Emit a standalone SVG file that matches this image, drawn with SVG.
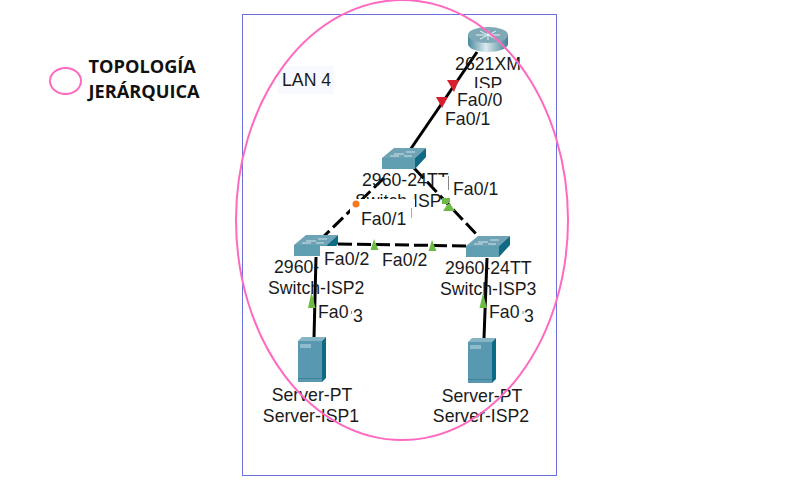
<svg xmlns="http://www.w3.org/2000/svg" width="803" height="490" viewBox="0 0 803 490">
<style>
text{font-family:"Liberation Sans",Arial,sans-serif;font-size:17.7px;fill:#1a1a1a}
.c{text-anchor:middle}
.t{font-family:"Open Sans",sans-serif;font-weight:700;font-size:18.2px;fill:#111}
.link{stroke:#000;stroke-width:3;fill:none}
.dash{stroke-dasharray:14 5}
.pink{fill:none;stroke:#ff69c0;stroke-width:2}
.mask{fill:#fff}
.srv{fill:#5898b0}
.srvs{fill:#0d6a85}
.srvt{fill:#8fbccb}
.g{fill:#6dbb45}
.r{fill:#d6202f}
</style>
<defs>
<linearGradient id="rg" x1="0" x2="1" y1="0" y2="0"><stop offset="0" stop-color="#4a8a9e"/><stop offset=".45" stop-color="#dcebee"/><stop offset="1" stop-color="#3f8094"/></linearGradient>
<g id="sw"><path d="M0 10 L12 0 H44 L33 10Z" fill="#6ea3b5"/><path d="M33 10 L44 0 V9 L33 21Z" fill="#0f6a84"/><rect x="0" y="10" width="33" height="11" fill="#5f9eb1"/><path d="M12 6h10M24 4h9M8 8h9M22 8h8" stroke="#cfe2e8" stroke-width="1"/></g>
<g id="sv"><path d="M0 4 L4 0 H28 L24 4Z" fill="#85b4c4"/><path d="M24 4 L28 0 V41 L24 45Z" class="srvs"/><rect y="4" width="24" height="41" class="srv"/><rect x="2" y="7" width="11" height="4" class="srvt"/><rect y="41" width="24" height="1" fill="#3f8299"/></g>
</defs>
<rect id="frame" x="242.500" y="14.500" width="314" height="461" fill="#fff" stroke="#6a70e0" stroke-width="1"/>
<rect x="278" y="66" width="56" height="28" fill="#f8f9fe"/>
<g id="router"><rect x="468" y="35" width="40" height="9" fill="url(#rg)"/><path d="M468 44a20 8 0 0 0 40 0z" fill="url(#rg)"/><ellipse cx="488" cy="35" rx="20" ry="8" fill="#7fa9b6"/><path d="M476 35h24M488 30v10M480 31l16 8M496 31l-16 8" stroke="#e8f2f4" stroke-width="1"/></g>
<g id="connectors">
<path class="link" d="M477 52 L410 150"/>
<path class="link dash" d="M384 178 L320 240"/>
<path class="link dash" d="M414 168 L478 236"/>
<path class="link dash" d="M338 244 L470 246"/>
<path class="link" d="M316 257 L314 338"/>
<path class="link" d="M487 258 L484 338"/>
<path d="M447 80h12l-5 12z" class="r"/><path d="M436 97h12l-6 11z" class="r"/>
<path d="M443 211h12l-6-9zM442 198h8v6h-8z" class="g"/>
<path d="M374 239l4.500 11h-8zM432 240l4.500 11h-8z" class="g"/>
<path d="M311.500 292l4 16h-7.500zM483 293l4 15h-7.500z" class="g"/>
</g>
<g id="router-labels"><text class="c" x="488" y="70">2621XM</text><text class="c" x="488" y="90">ISP</text></g>
<rect class="mask" x="460" y="88" width="50" height="5"/>
<g id="switch-isp"><use href="#sw" x="382" y="148"/><text x="362" y="186">2960-24TT</text><rect class="mask" x="441.500" y="177" width="10" height="14"/><text x="355" y="207">Switch-ISP</text><rect class="mask" x="350" y="199" width="65" height="16"/>
<circle cx="356" cy="204" r="3.500" fill="#f47b20"/><rect x="448" y="176" width="1" height="14" fill="#888"/><rect x="411" y="208" width="1" height="10" fill="#7ab8e8"/></g>
<g id="switch-isp2"><use href="#sw" x="294" y="235"/><rect class="mask" x="320" y="246" width="18" height="12"/><text x="274" y="273">2960-</text><text x="268" y="294">Switch-ISP2</text></g>
<g id="switch-isp3"><use href="#sw" x="466" y="236"/><text x="445" y="274">2960-24TT</text><text x="440" y="295">Switch-ISP3</text></g>
<g id="server-isp1"><use href="#sv" x="298" y="337"/><text class="c" x="312" y="401">Server-PT</text><text class="c" x="311" y="421.500">Server-ISP1</text></g>
<g id="server-isp2"><use href="#sv" x="468" y="338"/><text class="c" x="482" y="402">Server-PT</text><text class="c" x="481" y="422">Server-ISP2</text></g>
<g id="labels">
<text x="282" y="86">LAN 4</text>
<text x="457" y="106">Fa0/0</text>
<text x="445" y="125">Fa0/1</text>
<text x="453" y="195">Fa0/1</text>
<text x="361" y="225">Fa0/1</text>
<text x="324" y="265">Fa0/2</text>
<text x="382" y="266">Fa0/2</text>
<text x="318" y="318">Fa0</text><text x="353" y="322">3</text>
<text x="489" y="318">Fa0</text><text x="524" y="322">3</text>
<path d="M351.500 311v3M523 311v3" stroke="#888" stroke-width="1"/>
</g>
<g id="legend"><ellipse class="pink" cx="65.500" cy="81" rx="15.500" ry="13"/>
<text class="t" x="88.500" y="72.500">TOPOLOGÍA</text><text class="t" x="88.500" y="97.500">JERÁRQUICA</text></g>
<ellipse class="pink" cx="402" cy="220" rx="166" ry="220"/>
</svg>
